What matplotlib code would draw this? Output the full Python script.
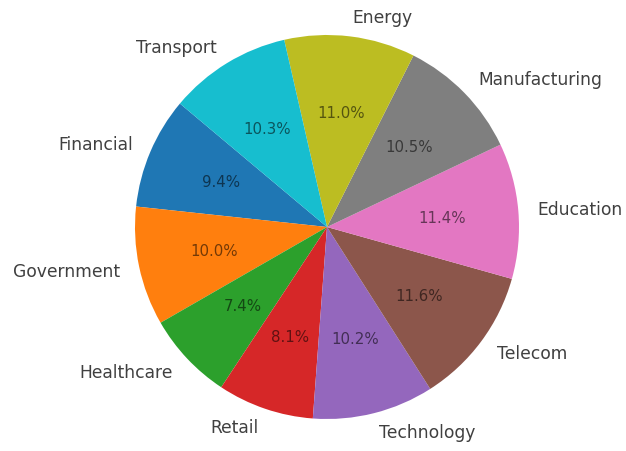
import matplotlib.pyplot as plt

sectors = ['Financial', 'Government', 'Healthcare', 'Retail', 'Technology',
           'Telecom', 'Education', 'Manufacturing', 'Energy', 'Transport']
shares = [9.4, 10.0, 7.4, 8.1, 10.2, 11.6, 11.4, 10.5, 11.0, 10.3]

fig = plt.figure(figsize=(6.26, 4.52), dpi=100)
ax = fig.add_axes([0, 0, 1, 1])

wedges, labels, pcts = ax.pie(shares, labels=sectors, autopct='%1.1f%%',
                              startangle=140,
                              textprops={'fontsize': 12.3, 'color': '#404040'})
for t in pcts:
    t.set_fontsize(10.8)
    t.set_color('black')
    t.set_alpha(0.55)

# place the pie: centre at (327, 228) px, radius 192 px
r = 192.0
ax.set_xlim(-327 / r, (626 - 327) / r)
ax.set_ylim(-(452 - 228) / r, 228 / r)
ax.axis('off')

fig.savefig('out.png', dpi=100)
